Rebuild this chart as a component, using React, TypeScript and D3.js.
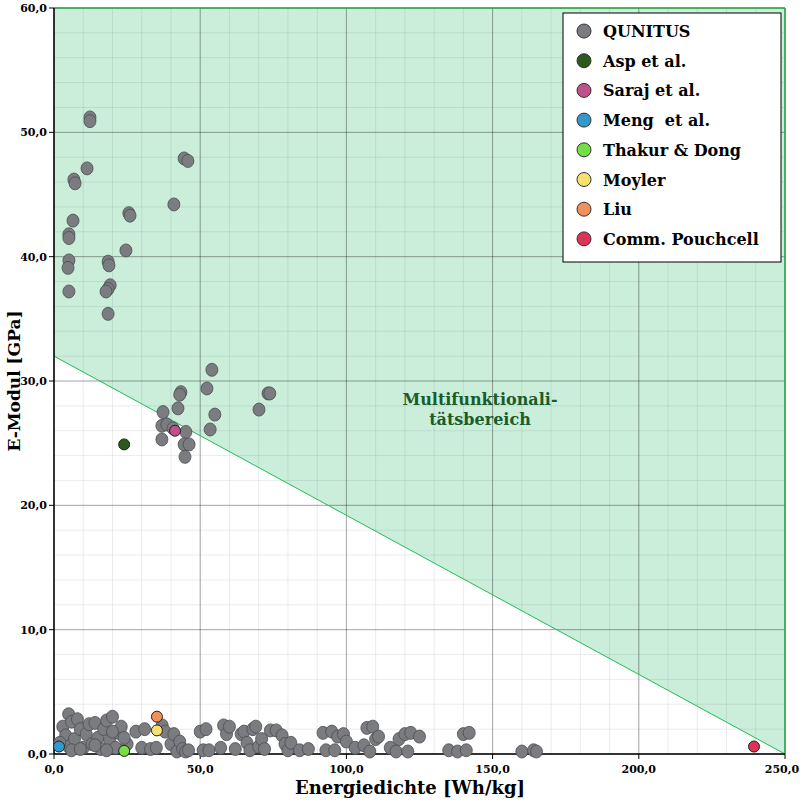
import React from "react";
import * as d3 from "d3";

const qunitus: [number, number][] = [
  [12.3,51.2],[12.3,50.9],[11.3,47.1],[6.8,46.2],[7.2,45.9],[6.5,42.9],[5.1,41.8],[5.1,41.5],[5.1,39.7],[4.8,39.1],[5.1,37.2],
  [18.5,39.6],[18.8,39.3],[19.2,37.7],[18.5,37.4],[17.8,37.2],[18.5,35.4],[24.6,40.5],[25.6,43.5],[26,43.3],[41,44.2],[44.5,47.9],[45.8,47.7],
  [54,30.9],[52.3,29.4],[43.4,29.1],[43,28.9],[42.4,27.8],[55,27.3],[70.1,27.7],[73.2,29],[73.8,29],[37.3,27.5],[36.9,26.4],[38.6,26.5],
  [40.7,26.2],[53.4,26.1],[45.1,25.9],[36.9,25.3],[44.5,24.9],[46.2,24.9],[44.8,23.9],
  [3,2.2],[4,1.5],[5,3.2],[6,2.6],[5,0.6],[7,1.2],[8,2.8],[9,2.0],[10,0.5],[11,1.6],[12,2.4],[13,0.8],[14,2.5],[15,1.3],[16,0.4],[17,2.0],
  [18,2.7],[19,1.1],[20,3.0],[21,0.5],[22,1.7],[23,2.2],[25,0.8],[2,0.9],[6,0.3],[9,0.4],[14,0.7],[18,0.3],[20,1.8],[24,1.3],
  [28,1.8],[30,0.5],[31,2.0],[33,0.4],[35,0.5],[37,2.3],[38,1.8],[40,0.8],[41,1.6],[42,0.2],[43,1.0],[44,0.4],[45,0.2],[46,0.3],
  [50,1.8],[51,0.3],[52,2.0],[53,0.3],[58,2.3],[59,1.6],[60,2.2],[57,0.5],[62,0.4],[64,1.6],[65,1.8],[66,0.9],[67,0.3],[68,2.0],[69,2.2],
  [70,0.6],[71,1.2],[72,0.4],[74,1.9],[76,1.9],[78,1.5],[79,0.8],[80,0.3],
  [81,0.9],[84,0.3],[87,0.4],[92,1.7],[95,1.8],[93,0.3],[96,0.3],[97,1.4],[99,1.6],[100,1.0],[103,0.5],[106,0.7],[107,2.1],[109,2.2],
  [108,0.2],[110,1.2],[111,1.4],[115,0.5],[118,1.2],[120,1.6],[122,1.7],[117,0.2],[121,0.2],[125,1.4],
  [135,0.3],[138,0.2],[140,1.6],[142,1.7],[141,0.3],[160,0.2],[164,0.3],[165,0.2],
];

const others = [
  { name: "Asp et al.", color: "#2d5a1b", x: 24, y: 24.9 },
  { name: "Saraj et al.", color: "#c0508a", x: 41.4, y: 26 },
  { name: "Meng\u00a0 et al.", color: "#3399cc", x: 1.7, y: 0.6 },
  { name: "Thakur & Dong", color: "#77dd44", x: 24, y: 0.25 },
  { name: "Moyler", color: "#f5e070", x: 35.2, y: 1.9 },
  { name: "Liu", color: "#f0905a", x: 35.2, y: 3.0 },
  { name: "Comm. Pouchcell", color: "#dd3355", x: 239.4, y: 0.6 },
];
const grayColor = "#7a7c80";
const xTicks = [0, 50, 100, 150, 200, 250];
const yTicks = [0, 10, 20, 30, 40, 50, 60];
const boundary: [number, number][] = [[0, 32], [250, 0]];

const font = "'DejaVu Serif', serif";

export default function App() {
  const x = d3.scaleLinear().domain([0, 250]).range([54, 785]);
  const y = d3.scaleLinear().domain([0, 60]).range([754, 8]);
  const fmt = (v: number) => v.toFixed(1).replace(".", ",");
  const minorX = d3.range(0, 251, 10);
  const minorY = d3.range(0, 61, 2);
  const fillPts = [[0, 60], [250, 60], boundary[1], boundary[0]].map(([a, b]) => `${x(a)},${y(b)}`).join(" ");
  const legendItems = [{ name: "QUNITUS", color: grayColor }, ...others];
  return (
    <svg width={800} height={800} style={{ position: "absolute", left: 0, top: 0, background: "#fff" }} fontFamily={font}>
      <polygon points={fillPts} fill="#cbeedb" />
      {minorX.map((v) => <line key={"mx" + v} x1={x(v)} x2={x(v)} y1={y(0)} y2={y(60)} stroke="#000" strokeOpacity={0.1} strokeWidth={0.8} />)}
      {minorY.map((v) => <line key={"my" + v} y1={y(v)} y2={y(v)} x1={x(0)} x2={x(250)} stroke="#000" strokeOpacity={0.1} strokeWidth={0.8} />)}
      {xTicks.map((v) => <line key={"Mx" + v} x1={x(v)} x2={x(v)} y1={y(0)} y2={y(60)} stroke="#000" strokeOpacity={0.3} strokeWidth={1} />)}
      {yTicks.map((v) => <line key={"My" + v} y1={y(v)} y2={y(v)} x1={x(0)} x2={x(250)} stroke="#000" strokeOpacity={0.3} strokeWidth={1} />)}
      <line x1={x(boundary[0][0])} y1={y(boundary[0][1])} x2={x(boundary[1][0])} y2={y(boundary[1][1])} stroke="#22bb55" strokeWidth={1} />
      <line x1={x(0)} x2={x(250)} y1={y(60)} y2={y(60)} stroke="#22aa44" strokeWidth={1.5} />
      <line x1={x(250)} x2={x(250)} y1={y(60)} y2={y(0)} stroke="#22aa44" strokeWidth={1.5} />
      <line x1={x(0)} x2={x(250)} y1={y(0)} y2={y(0)} stroke="#000" strokeWidth={1.5} />
      <line x1={x(0)} x2={x(0)} y1={y(0)} y2={y(60)} stroke="#000" strokeWidth={1.5} />
      {xTicks.map((v) => (
        <g key={"xt" + v}>
          <line x1={x(v)} x2={x(v)} y1={y(0)} y2={y(0) + 5} stroke="#000" />
          <text x={v === 250 ? 782 : x(v)} y={y(0) + 19} textAnchor="middle" fontSize={11} fontWeight="bold">{fmt(v)}</text>
        </g>
      ))}
      {yTicks.map((v) => (
        <g key={"yt" + v}>
          <line x1={x(0) - 5} x2={x(0)} y1={y(v)} y2={y(v)} stroke="#000" />
          <text x={x(0) - 7} y={y(v) + 4} textAnchor="end" fontSize={11} fontWeight="bold">{fmt(v)}</text>
        </g>
      ))}
      <text x={410} y={794} textAnchor="middle" fontSize={18} fontWeight="bold">Energiedichte [Wh/kg]</text>
      <text transform="translate(20,381) rotate(-90)" textAnchor="middle" fontSize={17} fontWeight="bold">E-Modul [GPa]</text>
      <text x={480} y={405} textAnchor="middle" fontSize={16} fontWeight="bold" fill="#1a5c2a">Multifunktionali-</text>
      <text x={480} y={425} textAnchor="middle" fontSize={16} fontWeight="bold" fill="#1a5c2a">tätsbereich</text>
      {qunitus.map(([a, b], i) => (
        <ellipse key={"q" + i} cx={x(a)} cy={y(b)} rx={6} ry={6.5} fill={grayColor} stroke="#4a4c50" strokeWidth={0.8} />
      ))}
      {others.map((o) => (
        <circle key={o.name} cx={x(o.x)} cy={y(o.y)} r={5.5} fill={o.color} stroke="#222" strokeWidth={1} />
      ))}
      <rect x={563} y={13} width={218} height={249} fill="#fff" stroke="#000" strokeWidth={1} />
      {legendItems.map((it, i) => (
        <g key={"lg" + i}>
          <circle cx={584} cy={31 + i * 29.7} r={7} fill={it.color} stroke="#333" strokeWidth={1} />
          <text x={603} y={37 + i * 29.7} fontSize={16} fontWeight="bold">{it.name}</text>
        </g>
      ))}
    </svg>
  );
}
